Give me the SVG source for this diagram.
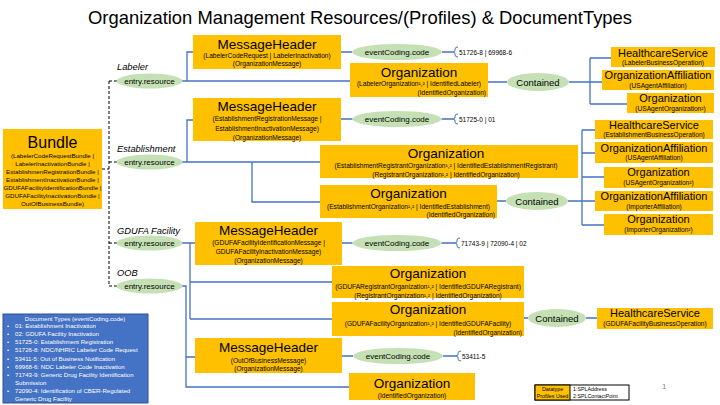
<svg xmlns="http://www.w3.org/2000/svg" width="720" height="405" viewBox="0 0 720 405">
<style>
text{font-family:"Liberation Sans",Arial,sans-serif;fill:#000}
.box{fill:#FFC000}
.ell{fill:#C5E0B4}
.ln{stroke:#4472C4;stroke-width:1.3;fill:none}
.br{stroke:#4472C4;stroke-width:1;fill:none}
.dash{stroke:#000;stroke-width:1;stroke-dasharray:3,2;fill:none}
.t1{font-size:13.5px}
.t2{font-size:11px}
.s{font-size:6.6px}
.bs{font-size:6.2px}
.el{font-size:8px}
.ct{font-size:9.5px}
.lab{font-size:9.3px;font-style:italic}
.num{font-size:6.5px}
.doc{font-size:6.1px;fill:#fff}
.lg{font-size:5.3px}
.m{text-anchor:middle}
.e{text-anchor:end}
</style>
<rect width="720" height="405" fill="#fff"/>
<text x="360" y="24" class="m" font-size="19" textLength="544" lengthAdjust="spacingAndGlyphs">Organization Management Resources/(Profiles) &amp; DocumentTypes</text>

<g id="connectors">
  <path class="dash" d="M102,169 H109 M109,81 V286 M109,81 H117 M109,162 H117 M109,243 H117 M109,286 H117"/>
  <path class="ln" d="M182,81 H350 M187,81 V52 H193 M341,52 H352 M442,52 H453 M488,82 H507 M569,82 H602 M590,58 V104 M590,58 H611 M590,104 H627"/>
  <path class="br" d="M458,47 Q455,47 455,49 V51 L453,52 L455,53 V55 Q455,57 458,57"/>
  <path class="ln" d="M182,162 H320 M187,162 V120 H193 M252,162 V202 H320 M341,119 H352.5 M441.5,119 H453 M497,201 H506 M568,201 H595 M582,130 V225 M582,130 H595 M582,153 H595 M582,177 H604 M582,225 H604"/>
  <path class="br" d="M458,114 Q455,114 455,116 V118 L453,119 L455,120 V122 Q455,124 458,124"/>
  <path class="ln" d="M182,243 H195 M190,243 V319 M190,282 H332 M190,319 H332 M342,243 H352.5 M441.5,243 H455 M524,318 H528 M586,318 H597"/>
  <path class="br" d="M460,238 Q457,238 457,240 V242 L455,243 L457,244 V246 Q457,248 460,248"/>
  <path class="ln" d="M182,286 H186 V387 H349 M186,357 H195 M342,356 H353 M443,356 H456"/>
  <path class="br" d="M461,351 Q458,351 458,353 V355 L456,356 L458,357 V359 Q458,361 461,361"/>
</g>

<g id="bundle">
  <rect class="box" x="3" y="129" width="99" height="80"/>
  <text x="52.5" y="148" class="m" font-size="16">Bundle</text>
  <text class="bs m" x="52.5" y="158">(LabelerCodeRequestBundle |</text>
  <text class="bs m" x="52.5" y="166">LabelerInactivationBundle |</text>
  <text class="bs m" x="52.5" y="174">EstablishmenRegistrationBundle |</text>
  <text class="bs m" x="52.5" y="182">EstablishmentInactivationBundle |</text>
  <text class="bs m" x="52.5" y="190">GDUFAFacilityIdentificationBundle |</text>
  <text class="bs m" x="52.5" y="198">GDUFAFacilityInactivationBundle |</text>
  <text class="bs m" x="52.5" y="206">OutOfBusinessBundle)</text>
</g>

<g id="labeler-entry">
  <text class="lab" x="117" y="70">Labeler</text>
  <ellipse class="ell" cx="149.5" cy="81" rx="33" ry="7.5"/>
  <text class="el m" x="149.5" y="84">entry.resource</text>
</g>
<g id="establishment-entry">
  <text class="lab" x="117" y="151.5">Establishment</text>
  <ellipse class="ell" cx="149.5" cy="162" rx="33" ry="7.5"/>
  <text class="el m" x="149.5" y="165">entry.resource</text>
</g>
<g id="gdufa-entry">
  <text class="lab" x="117" y="234">GDUFA Facility</text>
  <ellipse class="ell" cx="149.5" cy="243" rx="33" ry="7.5"/>
  <text class="el m" x="149.5" y="246">entry.resource</text>
</g>
<g id="oob-entry">
  <text class="lab" x="117" y="276">OOB</text>
  <ellipse class="ell" cx="149.5" cy="286" rx="33" ry="7.5"/>
  <text class="el m" x="149.5" y="289">entry.resource</text>
</g>

<g id="labeler-mh">
  <rect class="box" x="193" y="35" width="148" height="34"/>
  <text class="t1 m" x="267" y="49">MessageHeader</text>
  <text class="s m" x="267" y="58">(LabelerCodeRequest | LabelerInactivation)</text>
  <text class="s m" x="267" y="66">(OrganizationMessage)</text>
</g>
<g id="labeler-ec">
  <ellipse class="ell" cx="397" cy="52" rx="45" ry="8"/>
  <text class="el m" x="397" y="55">eventCoding.code</text>
  <text class="num" x="459" y="54.5">51726-8 | 69968-6</text>
</g>
<g id="labeler-org">
  <rect class="box" x="350" y="63" width="138" height="34"/>
  <text class="t1 m" x="419" y="77">Organization</text>
  <text class="s m" x="419" y="86">(LabelerOrganization¹,² | IdentifiedLabeler)</text>
  <text class="s e" x="486" y="95">(IdentifiedOrganization)</text>
</g>
<g id="labeler-contained">
  <ellipse class="ell" cx="538" cy="82" rx="31" ry="9"/>
  <text class="ct m" x="538" y="85.5">Contained</text>
</g>
<g id="labeler-hs">
  <rect class="box" x="611" y="47" width="104" height="20"/>
  <text class="t2 m" x="663" y="57">HealthcareService</text>
  <text class="s m" x="663" y="65">(LabelerBusinessOperation)</text>
</g>
<g id="labeler-oa">
  <rect class="box" x="602" y="70" width="112" height="20"/>
  <text class="t2 m" x="658" y="79">OrganizationAffiliation</text>
  <text class="s m" x="658" y="87.5">(USAgentAffiliation)</text>
</g>
<g id="labeler-usorg">
  <rect class="box" x="627" y="93" width="87" height="20"/>
  <text class="t2 m" x="670.5" y="102">Organization</text>
  <text class="s m" x="670.5" y="110.5">(USAgentOrganization²)</text>
</g>

<g id="est-mh">
  <rect class="box" x="193" y="98" width="148" height="43"/>
  <text class="t1 m" x="267" y="111">MessageHeader</text>
  <text class="s m" x="267" y="121">(EstablishmentRegistrationMessage |</text>
  <text class="s m" x="267" y="131">EstablishmentInactivationMessage)</text>
  <text class="s m" x="267" y="139.5">(OrganizationMessage)</text>
</g>
<g id="est-ec">
  <ellipse class="ell" cx="397" cy="119" rx="44.5" ry="8"/>
  <text class="el m" x="397" y="122">eventCoding.code</text>
  <text class="num" x="459" y="121.5">51725-0 | 01</text>
</g>
<g id="est-regorg">
  <rect class="box" x="320" y="145" width="258" height="33"/>
  <text class="t1 m" x="446" y="158">Organization</text>
  <text class="s m" x="446" y="168">(EstablishmentRegistrantOrganization¹,² | IdentifiedEstablishmentRegistrant)</text>
  <text class="s m" x="446" y="177">(RegistrantOrganization¹,² | IdentifiedOrganization)</text>
</g>
<g id="est-org">
  <rect class="box" x="320" y="185" width="177" height="33"/>
  <text class="t1 m" x="408.5" y="198">Organization</text>
  <text class="s m" x="408.5" y="209">(EstablishmentOrganization¹,² | IdentifiedEstablishment)</text>
  <text class="s e" x="495" y="217">(IdentifiedOrganization)</text>
</g>
<g id="est-contained">
  <ellipse class="ell" cx="537" cy="201" rx="31" ry="9"/>
  <text class="ct m" x="537" y="204.5">Contained</text>
</g>
<g id="est-hs">
  <rect class="box" x="595" y="120" width="118" height="19"/>
  <text class="t2 m" x="654" y="129">HealthcareService</text>
  <text class="s m" x="654" y="136.5">(EstablishmentBusinessOperation)</text>
</g>
<g id="est-oa1">
  <rect class="box" x="595" y="142" width="118" height="21"/>
  <text class="t2 m" x="654" y="152">OrganizationAffiliation</text>
  <text class="s m" x="654" y="160">(USAgentAffiliation)</text>
</g>
<g id="est-org1">
  <rect class="box" x="604" y="167" width="109" height="21"/>
  <text class="t2 m" x="658.5" y="176">Organization</text>
  <text class="s m" x="658.5" y="184.5">(USAgentOrganization²)</text>
</g>
<g id="est-oa2">
  <rect class="box" x="595" y="191" width="118" height="20"/>
  <text class="t2 m" x="654" y="200">OrganizationAffiliation</text>
  <text class="s m" x="654" y="209">(ImporterAffiliation)</text>
</g>
<g id="est-org2">
  <rect class="box" x="604" y="214" width="109" height="21"/>
  <text class="t2 m" x="658.5" y="223">Organization</text>
  <text class="s m" x="658.5" y="231.5">(ImporterOrganization²)</text>
</g>

<g id="gdufa-mh">
  <rect class="box" x="195" y="222" width="147" height="43"/>
  <text class="t1 m" x="268.5" y="235">MessageHeader</text>
  <text class="s m" x="268.5" y="245">(GDUFAFacilityIdentificationMessage |</text>
  <text class="s m" x="268.5" y="254">GDUFAFacilityInactivationMessage)</text>
  <text class="s m" x="268.5" y="263">(OrganizationMessage)</text>
</g>
<g id="gdufa-ec">
  <ellipse class="ell" cx="397" cy="243" rx="44.5" ry="8"/>
  <text class="el m" x="397" y="246">eventCoding.code</text>
  <text class="num" x="461" y="245.5">71743-9 | 72090-4 | 02</text>
</g>
<g id="gdufa-regorg">
  <rect class="box" x="332" y="266" width="192" height="32"/>
  <text class="t1 m" x="428" y="278">Organization</text>
  <text class="s m" x="428" y="289">(GDUFARegistrantOrganization¹,² | IdentifiedGDUFARegistrant)</text>
  <text class="s m" x="428" y="297.5">(RegistrantOrganization¹,² | IdentifiedOrganization)</text>
</g>
<g id="gdufa-org">
  <rect class="box" x="332" y="302" width="192" height="34"/>
  <text class="t1 m" x="428" y="314">Organization</text>
  <text class="s m" x="428" y="325.5">(GDUFAFacilityOrganization¹,² | IdentifiedGDUFAFacility)</text>
  <text class="s e" x="522" y="334.5">(IdentifiedOrganization)</text>
</g>
<g id="gdufa-contained">
  <ellipse class="ell" cx="557" cy="318" rx="29" ry="9"/>
  <text class="ct m" x="557" y="321.5">Contained</text>
</g>
<g id="gdufa-hs">
  <rect class="box" x="597" y="308" width="116" height="21"/>
  <text class="t2 m" x="655" y="316.5">HealthcareService</text>
  <text class="s m" x="655" y="325.5">(GDUFAFacilityBusinessOperation)</text>
</g>

<g id="oob-mh">
  <rect class="box" x="195" y="338" width="147" height="35"/>
  <text class="t1 m" x="268.5" y="352">MessageHeader</text>
  <text class="s m" x="268.5" y="363">(OutOfBusinessMessage)</text>
  <text class="s m" x="268.5" y="371">(OrganizationMessage)</text>
</g>
<g id="oob-ec">
  <ellipse class="ell" cx="398" cy="356" rx="45" ry="8"/>
  <text class="el m" x="398" y="359">eventCoding.code</text>
  <text class="num" x="462" y="358.5">53411-5</text>
</g>
<g id="oob-org">
  <rect class="box" x="349" y="373" width="126" height="27"/>
  <text class="t1 m" x="412" y="388">Organization</text>
  <text class="s m" x="412" y="398">(IdentifiedOrganization)</text>
</g>

<g id="doc-types">
  <rect x="3" y="314" width="145" height="89" fill="#4472C4" stroke="#2F528F" stroke-width="1"/>
  <text class="doc m" x="75" y="320.5">Document Types (eventCoding.code)</text>
  <text class="doc" x="7" y="327.5">•</text><text class="doc" x="15" y="327.5">01: Establishment Inactivation</text>
  <text class="doc" x="7" y="335.5">•</text><text class="doc" x="15" y="335.5">02: GDUFA Facility Inactivation</text>
  <text class="doc" x="7" y="344">•</text><text class="doc" x="15" y="344">51725-0: Establishment Registration</text>
  <text class="doc" x="7" y="352">•</text><text class="doc" x="15" y="352">51726-8: NDC/NHRIC Labeler Code Request</text>
  <text class="doc" x="7" y="360.5">•</text><text class="doc" x="15" y="360.5">53411-5: Out of Business Notification</text>
  <text class="doc" x="7" y="369">•</text><text class="doc" x="15" y="369">69968-6: NDC Labeler Code Inactivation</text>
  <text class="doc" x="7" y="377">•</text><text class="doc" x="15" y="377">71743-9: Generic Drug Facility Identification</text>
  <text class="doc" x="15" y="384.5">Submission</text>
  <text class="doc" x="7" y="393">•</text><text class="doc" x="15" y="393">72090-4: Identification of CBER-Regulated</text>
  <text class="doc" x="15" y="400.5">Generic Drug Facility</text>
</g>

<g id="legend">
  <rect x="535" y="385" width="94" height="15" fill="#fff" stroke="#000" stroke-width="1"/>
  <rect x="535" y="385" width="35" height="15" fill="#FFC000" stroke="#000" stroke-width="1"/>
  <text class="lg m" x="552.5" y="391">Datatype</text>
  <text class="lg m" x="552.5" y="398">Profiles Used</text>
  <text class="lg" x="573" y="391">1:SPLAddress</text>
  <text class="lg" x="573" y="398">2:SPLContactPoint</text>
</g>
<text x="662" y="389" font-size="8" style="fill:#888">1</text>
</svg>
